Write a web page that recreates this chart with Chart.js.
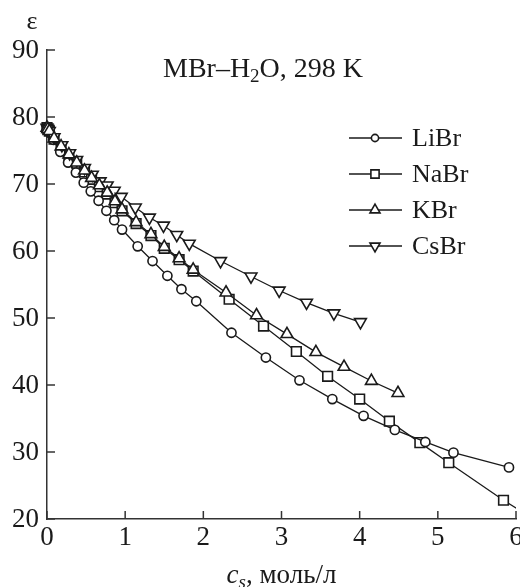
<!DOCTYPE html>
<html>
<head>
<meta charset="utf-8">
<script src="https://cdn.jsdelivr.net/npm/chart.js@4.4.1/dist/chart.umd.min.js"></script>
<style>
  html, body { margin: 0; padding: 0; background: #fff; }
  #wrap { width: 520px; height: 587px; }
</style>
</head>
<body>
<div id="wrap"><canvas id="chart" width="520" height="587"></canvas></div>
<script>
// ================= DATA =================
const seriesNames = ['LiBr', 'NaBr', 'KBr', 'CsBr']

const liBrC = [0, 0.01, 0.02, 0.04, 0.08, 0.17, 0.27, 0.37, 0.47, 0.56, 0.66, 0.76, 0.86, 0.96, 1.16, 1.35, 1.54, 1.72, 1.91, 2.36, 2.80, 3.23, 3.65, 4.05, 4.45, 4.84, 5.20, 5.91]
const liBrE = [78.4, 78.2, 78.0, 77.6, 76.6, 74.8, 73.2, 71.7, 70.2, 68.9, 67.5, 66.0, 64.6, 63.2, 60.7, 58.5, 56.3, 54.3, 52.5, 47.8, 44.1, 40.7, 37.9, 35.4, 33.3, 31.5, 29.9, 27.7]

const naBrC = [0, 0.01, 0.03, 0.09, 0.18, 0.28, 0.38, 0.48, 0.57, 0.67, 0.77, 0.87, 0.96, 1.14, 1.33, 1.50, 1.69, 1.87, 2.33, 2.77, 3.19, 3.59, 4.00, 4.38, 4.77, 5.14, 5.84, 6.10]
const naBrE = [78.4, 78.2, 77.9, 76.7, 75.5, 74.3, 73.1, 71.8, 70.7, 69.6, 68.5, 67.2, 66.0, 64.1, 62.3, 60.4, 58.7, 57.0, 52.8, 48.8, 45.0, 41.3, 37.9, 34.6, 31.4, 28.4, 22.8, 20.9]

const kBrC = [0, 0.01, 0.03, 0.09, 0.18, 0.28, 0.38, 0.48, 0.57, 0.67, 0.77, 0.87, 0.96, 1.14, 1.33, 1.50, 1.69, 1.87, 2.29, 2.68, 3.07, 3.44, 3.80, 4.15, 4.49]
const kBrE = [78.4, 78.2, 77.9, 76.8, 75.6, 74.4, 73.2, 72.0, 70.9, 69.8, 68.7, 67.4, 66.2, 64.3, 62.5, 60.6, 58.9, 57.2, 53.8, 50.4, 47.6, 44.9, 42.7, 40.6, 38.8]

const csBrC = [0, 0.01, 0.03, 0.09, 0.19, 0.29, 0.38, 0.48, 0.58, 0.68, 0.77, 0.86, 0.95, 1.13, 1.31, 1.49, 1.66, 1.82, 2.22, 2.61, 2.97, 3.32, 3.67, 4.01]
const csBrE = [78.4, 78.2, 77.9, 77.0, 75.8, 74.6, 73.6, 72.4, 71.4, 70.4, 69.8, 69.0, 68.1, 66.5, 65.0, 63.8, 62.4, 61.1, 58.5, 56.2, 54.1, 52.3, 50.7, 49.4]

const xTicks = [0, 1, 2, 3, 4, 5, 6]
const yTicks = [20, 30, 40, 50, 60, 70, 80, 90]

// ================= HELPERS =================
const FONT = '"Liberation Serif", "Times New Roman", serif'
const INK = '#1a1a1a'

function pts(xs, ys) {
  return xs.map((x, i) => ({ x: x, y: ys[i] }))
}

function series(label, xs, ys, style, radius, rotation, order) {
  return {
    label: label,
    data: pts(xs, ys),
    order: order,
    borderColor: INK,
    borderWidth: 1.3,
    backgroundColor: '#fff',
    pointStyle: style,
    pointRotation: rotation || 0,
    pointRadius: radius,
    pointBorderWidth: 1.6,
    pointBorderColor: INK,
    pointBackgroundColor: '#fff',
    tension: 0,
    fill: false,
    clip: { left: 12, top: 10, right: 0, bottom: 0 }
  }
}

// pieces: [text, size, italic, dy]
function runs(ctx, pieces, x, y, align) {
  const widths = pieces.map(p => {
    ctx.font = (p[2] ? 'italic ' : '') + p[1] + 'px ' + FONT
    return ctx.measureText(p[0]).width
  })
  const total = widths.reduce((a, b) => a + b, 0)
  if (align === 'center') x -= total / 2
  ctx.textAlign = 'left'
  pieces.forEach((p, i) => {
    ctx.font = (p[2] ? 'italic ' : '') + p[1] + 'px ' + FONT
    ctx.fillText(p[0], x, y + (p[3] || 0))
    x += widths[i]
  })
}

// ================= PLUGIN: ticks, labels, texts, legend =================
const decor = {
  id: 'decor',
  afterDraw(chart) {
    const ctx = chart.ctx
    const xs = chart.scales.x
    const ys = chart.scales.y
    const a = chart.chartArea

    ctx.save()
    ctx.strokeStyle = '#333'
    ctx.lineWidth = 1.5
    ctx.fillStyle = INK
    ctx.font = '27px ' + FONT

    yTicks.forEach(v => {
      const y = ys.getPixelForValue(v)
      ctx.beginPath()
      ctx.moveTo(a.left, y)
      ctx.lineTo(a.left + 8, y)
      ctx.stroke()
      ctx.textAlign = 'right'
      ctx.textBaseline = 'middle'
      ctx.fillText(String(v), a.left - 8, y + 1)
    })
    xTicks.forEach(v => {
      const x = xs.getPixelForValue(v)
      ctx.beginPath()
      ctx.moveTo(x, a.bottom)
      ctx.lineTo(x, a.bottom - 8)
      ctx.stroke()
      ctx.textAlign = 'center'
      ctx.textBaseline = 'middle'
      ctx.fillText(String(v), x, a.bottom + 19)
    })

    ctx.textBaseline = 'alphabetic'

    // y title
    ctx.font = '26px ' + FONT
    ctx.textAlign = 'center'
    ctx.fillText('ε', 32, 29)

    // annotation
    runs(ctx, [['MBr–H', 28], ['2', 19, false, 5], ['O, 298 K', 28]], 163, 77, 'left')

    // x title
    runs(ctx, [['c', 27, true], ['s', 19, true, 5], [', моль/л', 27]], (a.left + a.right) / 2, 583, 'center')

    // legend
    const rows = [138, 174, 210, 246]
    seriesNames.forEach((name, i) => {
      const ds = chart.data.datasets[i]
      const y = rows[i]
      ctx.strokeStyle = INK
      ctx.lineWidth = 1.3
      ctx.beginPath()
      ctx.moveTo(349, y)
      ctx.lineTo(402, y)
      ctx.stroke()
      ctx.lineWidth = ds.pointBorderWidth
      ctx.fillStyle = '#fff'
      Chart.helpers.drawPoint(ctx, {
        pointStyle: ds.pointStyle,
        rotation: ds.pointRotation,
        radius: ds.pointRadius - 1,
        borderWidth: ds.pointBorderWidth
      }, 375, y)
      ctx.fillStyle = INK
      ctx.font = '26px ' + FONT
      ctx.textAlign = 'left'
      ctx.textBaseline = 'middle'
      ctx.fillText(name, 412, y + 1)
      ctx.textBaseline = 'alphabetic'
    })
    ctx.restore()
  }
}

// ================= CHART =================
function draw() {
  new Chart(document.getElementById('chart'), {
    type: 'line',
    data: {
      datasets: [
        series(seriesNames[0], liBrC, liBrE, 'circle', 4.6, 0, 2),
        series(seriesNames[1], naBrC, naBrE, 'rect', 6.8, 0, 3),
        series(seriesNames[2], kBrC, kBrE, 'triangle', 6.8, 0, 0),
        series(seriesNames[3], csBrC, csBrE, 'triangle', 6.8, 180, 1)
      ]
    },
    options: {
      responsive: false,
      animation: false,
      layout: { autoPadding: false, padding: { top: 50, right: 4, left: 0, bottom: 0 } },
      plugins: { legend: { display: false }, tooltip: { enabled: false } },
      scales: {
        x: {
          type: 'linear',
          min: 0,
          max: 6,
          afterFit: s => { s.height = 68; s.paddingLeft = 0; s.paddingRight = 0 },
          afterBuildTicks: s => { s.ticks = xTicks.map(v => ({ value: v })) },
          grid: { display: false, drawTicks: false },
          border: { display: true, color: '#333', width: 1.5 },
          ticks: { display: false }
        },
        y: {
          type: 'linear',
          min: 20,
          max: 90,
          afterFit: s => { s.width = 47; s.paddingTop = 0; s.paddingBottom = 0 },
          afterBuildTicks: s => { s.ticks = yTicks.map(v => ({ value: v })) },
          grid: { display: false, drawTicks: false },
          border: { display: true, color: '#333', width: 1.5 },
          ticks: { display: false }
        }
      }
    },
    plugins: [decor]
  })
}

Promise.all([
  document.fonts.load('22px "Liberation Serif"'),
  document.fonts.load('italic 22px "Liberation Serif"')
]).then(draw, draw)
</script>
</body>
</html>
